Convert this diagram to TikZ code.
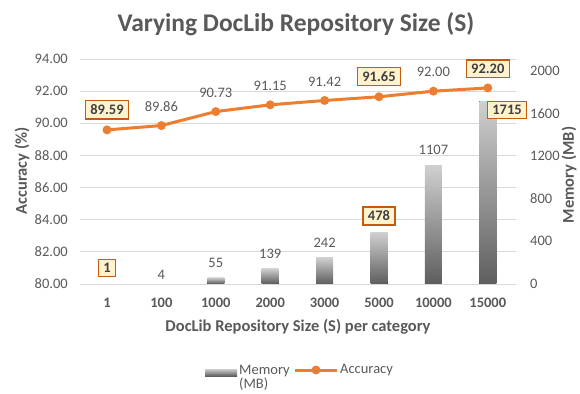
\documentclass[tikz,border=0pt]{standalone}
\usepackage{fontspec}
\setmainfont{Carlito}
\usetikzlibrary{calc}
\definecolor{gridc}{HTML}{D9D9D9}
\definecolor{txt}{HTML}{595959}
\definecolor{org}{HTML}{ED7D31}
\definecolor{boxd}{HTML}{C55A11}
\definecolor{boxf}{HTML}{FFF2CC}
\definecolor{boxt}{HTML}{404040}
\definecolor{barT}{HTML}{CFCFCF}
\definecolor{barB}{HTML}{5E5E5E}
\begin{document}
\begin{tikzpicture}[x=1pt,y=-1pt,
  grid/.style={draw=gridc, line width=0.9pt},
  ticklab/.style={font=\fontsize{14.5}{17}\selectfont, text=txt, inner sep=0pt},
  xlab/.style={font=\bfseries\fontsize{14.5}{17}\selectfont, text=txt, inner sep=0pt},
  vlab/.style={font=\fontsize{14.5}{17}\selectfont, text=txt, inner sep=0pt},
  boxlab/.style={draw=boxd, fill=boxf, line width=1.3pt, font=\bfseries\fontsize{14.5}{17}\selectfont, text=boxt, inner xsep=5pt, inner ysep=4pt},
  bar/.style={top color=barT, bottom color=barB, draw=none},
  accline/.style={draw=org, line width=3pt, line join=round},
  mk/.style={circle, fill=org, inner sep=0pt, minimum size=9pt},
  axtitle/.style={font=\bfseries\fontsize{16.5}{19}\selectfont, text=txt, inner sep=0pt},
]
\useasboundingbox (0,0) rectangle (580,393);
% title
\node[font=\bfseries\fontsize{25.5}{29}\selectfont, text=txt] (title) at (296,24) {Varying DocLib Repository Size (S)};
% gridlines and left ticks
\foreach \k/\t in {0/94.00,1/92.00,2/90.00,3/88.00,4/86.00,5/84.00,6/82.00,7/80.00} {
  \draw[grid] (80,{59+32.14*\k}) -- (516,{59+32.14*\k});
  \node[ticklab, anchor=east] (yl\k) at (68,{59+32.14*\k}) {\t};
}
% right ticks
\foreach \k/\t in {0/0,1/400,2/800,3/1200,4/1600,5/2000} {
  \node[ticklab, anchor=west] (yr\k) at (530,{283.5-42.5*\k}) {\t};
}
% x labels
\foreach \i/\t in {0/1,1/100,2/1000,3/2000,4/3000,5/5000,6/10000,7/15000} {
  \node[xlab] (xl\i) at ({107+54.4*\i},303) {\t};
}
% bars (values 1 and 4 are too small to show)
\foreach \i/\m in {2/55,3/139,4/242,5/478,6/1107,7/1715} {
  \fill[bar] ({107+54.4*\i-8.5},283.5) rectangle ({107+54.4*\i+8.5},{283.5-\m*0.10625});
}
% accuracy line
\foreach \i/\v in {0/89.59,1/89.86,2/90.73,3/91.15,4/91.42,5/91.65,6/92.00,7/92.20} {
  \coordinate (a\i) at ({107+54.4*\i},{284-(\v-80)*16.07});
}
\draw[accline] (a0) -- (a1) -- (a2) -- (a3) -- (a4) -- (a5) -- (a6) -- (a7);
\foreach \i in {0,...,7} { \node[mk] (m\i) at (a\i) {}; }
% accuracy labels
\node[boxlab] (l0) at ($(a0)+(0,-20)$) {89.59};
\node[vlab] (l1) at ($(a1)+(0,-19)$) {89.86};
\node[vlab] (l2) at ($(a2)+(0,-19)$) {90.73};
\node[vlab] (l3) at ($(a3)+(0,-19)$) {91.15};
\node[vlab] (l4) at ($(a4)+(0,-19)$) {91.42};
\node[boxlab] (l5) at ($(a5)+(0,-20)$) {91.65};
\node[vlab] (l6) at ($(a6)+(0,-19)$) {92.00};
\node[boxlab] (l7) at ($(a7)+(0,-19)$) {92.20};
% memory labels
\node[boxlab] (b0) at (107,268) {1};
\node[vlab] (b1) at (161.4,275) {4};
\node[vlab] (b2) at (215.8,263) {55};
\node[vlab] (b3) at (270.2,254) {139};
\node[vlab] (b4) at (324.6,243) {242};
\node[boxlab] (b5) at (379,216) {478};
\node[vlab] (b6) at (433.4,150) {1107};
\node[boxlab] (b7) at (507,110) {1715};
% axis titles
\node[axtitle] (xt) at (298,327) {DocLib Repository Size (S) per category};
\node[axtitle, rotate=90] (ytl) at (22,171) {Accuracy (\%)};
\node[axtitle, rotate=90] (ytr) at (569,175) {Memory (MB)};
% legend
\fill[bar] (205,369) rectangle (237,376);
\node[ticklab, anchor=north west, align=left, font=\fontsize{14.5}{13.5}\selectfont] (legm) at (239,365) {Memory\\(MB)};
\coordinate (lg1) at (295,370);
\coordinate (lg2) at (337,370);
\draw[accline] (lg1) -- (lg2);
\node[mk] (lgm) at (316,370) {};
\node[ticklab, anchor=west] (lega) at (340,370) {Accuracy};
\end{tikzpicture}
\end{document}
